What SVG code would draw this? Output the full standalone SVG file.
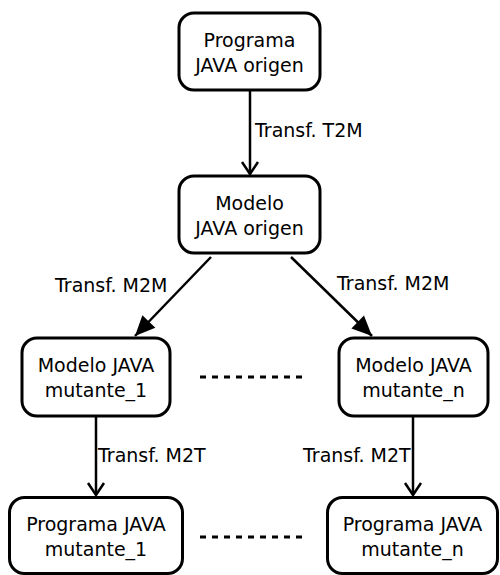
<svg xmlns="http://www.w3.org/2000/svg" width="500" height="575" viewBox="0 0 500 575">
<defs>
<style>
.box{fill:#fff;stroke:#000;stroke-width:3}
.t{font-family:"DejaVu Sans",sans-serif;font-size:19px;fill:#000;text-anchor:middle}
.l{font-family:"DejaVu Sans",sans-serif;font-size:19px;fill:#000}
.c{fill:none;stroke:#000;stroke-width:2.5}
.d{fill:none;stroke:#000;stroke-width:3;stroke-dasharray:6 6}
</style>
<marker id="open" viewBox="0 0 20 20" refX="18" refY="10" markerWidth="20" markerHeight="20" markerUnits="userSpaceOnUse" orient="auto">
<path d="M6,2 L18,10 L6,18" fill="none" stroke="#000" stroke-width="2.5"/>
</marker>
<marker id="fill" viewBox="0 0 24 24" refX="22" refY="12" markerWidth="24" markerHeight="24" markerUnits="userSpaceOnUse" orient="auto">
<path d="M2,3 L22,12 L2,21 Z" fill="#000"/>
</marker>
</defs>
<rect width="500" height="575" fill="#fff"/>
<g id="connectors">
<line class="c" x1="250" y1="91" x2="250" y2="174" marker-end="url(#open)"/>
<line class="c" x1="211" y1="257" x2="135" y2="336" marker-end="url(#fill)"/>
<line class="c" x1="291" y1="257" x2="372" y2="336" marker-end="url(#fill)"/>
<line class="c" x1="96" y1="416" x2="96" y2="495" marker-end="url(#open)"/>
<line class="c" x1="413" y1="416" x2="413" y2="495" marker-end="url(#open)"/>
<line class="d" x1="200" y1="377" x2="304" y2="377"/>
<line class="d" x1="200" y1="537" x2="304" y2="537"/>
<text class="l" x="255" y="137">Transf. T2M</text>
<text class="l" x="55" y="292">Transf. M2M</text>
<text class="l" x="337" y="290">Transf. M2M</text>
<text class="l" x="98" y="462">Transf. M2T</text>
<text class="l" x="303" y="462">Transf. M2T</text>
</g>
<g id="prog_origen">
<rect class="box" x="179" y="13" width="141" height="77" rx="15"/>
<text class="t" x="249.5" y="47">Programa</text>
<text class="t" x="249.5" y="72">JAVA origen</text>
</g>
<g id="modelo_origen">
<rect class="box" x="179" y="176" width="141" height="77" rx="15"/>
<text class="t" x="249.5" y="210">Modelo</text>
<text class="t" x="249.5" y="235">JAVA origen</text>
</g>
<g id="modelo_mut1">
<rect class="box" x="22" y="338" width="148" height="78" rx="15"/>
<text class="t" x="96" y="372">Modelo JAVA</text>
<text class="t" x="96" y="397">mutante_1</text>
</g>
<g id="modelo_mutn">
<rect class="box" x="339" y="338" width="149" height="78" rx="15"/>
<text class="t" x="413.5" y="372">Modelo JAVA</text>
<text class="t" x="413.5" y="397">mutante_n</text>
</g>
<g id="prog_mut1">
<rect class="box" x="9.5" y="497.5" width="173" height="76" rx="15"/>
<text class="t" x="96" y="531">Programa JAVA</text>
<text class="t" x="96" y="556">mutante_1</text>
</g>
<g id="prog_mutn">
<rect class="box" x="327.5" y="497.5" width="170" height="76" rx="15"/>
<text class="t" x="412.5" y="531">Programa JAVA</text>
<text class="t" x="412.5" y="556">mutante_n</text>
</g>
</svg>
